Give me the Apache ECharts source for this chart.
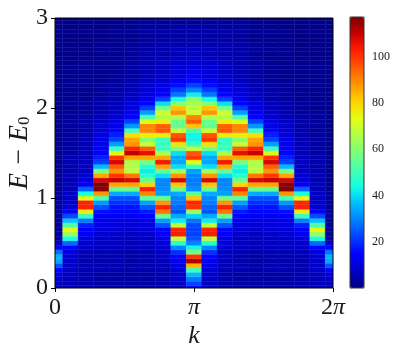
<!DOCTYPE html>
<html>
<head>
<meta charset="utf-8">
<style>
    html, body { margin: 0; padding: 0; background: #fff; }
    #chart { width: 399px; height: 356px; }
</style>
<script src="https://cdn.jsdelivr.net/npm/echarts@6/dist/echarts.min.js"></script>
</head>
<body>
<div id="chart"></div>
<script type="text/javascript">
    // intensity per k column, from E = 0 upwards in steps of 0.05 (61 rows)
    const k0 = [6,6,8,10,15,24,34,35,28,15, 7,4,3,3,3,3,3,3,3,3, 3,3,2,2,2,2,2,2,2,2,
                2,2,2,2,2,2,2,2,2,2, 1,1,1,1,1,1,1,1,1,1, 1,1,1,1,1,1,1,1,1,1, 1];
    const k1 = [6,6,6,7,7,8,8,9,11,15, 26,44,62,74,52,37,23,14,9,8, 7,7,6,6,6,5,5,5,5,5,
                4,4,4,3,3,3,3,3,3,3, 2,2,2,2,2,2,2,2,2,2, 1,1,1,1,1,1,1,1,1,1, 1];
    const k2 = [5,5,5,5,5,5,5,5,6,7, 8,10,13,14,18,29,48,76,102,102, 73,44,26,14,10,8,7,7,7,6,
                6,6,6,5,5,5,4,4,4,3, 3,3,2,2,2,2,2,2,2,2, 2,2,1,1,1,1,1,1,1,1, 1];
    const k3 = [4,4,4,4,5,5,5,5,6,6, 7,8,9,10,11,12,14,16,24,32, 52,88,116,117,108,86,59,36,22,18,
                15,14,12,11,10,9,8,7,6,5, 5,4,4,3,3,3,2,2,2,2, 2,2,2,2,2,2,1,1,1,1, 1];
    const k4 = [4,4,4,4,5,5,5,5,6,6, 7,7,8,9,10,11,13,15,17,20, 24,34,55,86,110,100,88,95,108,100,
                74,49,33,22,18,15,12,10,9,8, 7,6,5,5,4,4,3,3,3,2, 2,2,2,2,2,2,2,2,2,1, 1];
    const k5 = [4,4,4,4,4,4,4,4,5,6, 6,7,7,8,9,11,13,15,17,20, 24,34,56,86,108,92,68,66,66,86,
                110,102,88,86,78,50,32,22,15,13, 11,10,8,7,6,5,5,4,4,4, 4,3,3,3,3,2,2,2,2,2, 2];
    const k6 = [4,4,4,4,5,5,5,5,6,6, 7,7,8,9,10,12,15,17,25,33, 54,90,102,80,56,47,42,46,58,86,
                106,95,68,60,76,90,90,72,52,33, 22,15,13,11,9,8,7,6,6,5, 5,5,5,4,4,4,3,3,3,3, 2];
    const k7 = [5,5,5,5,5,6,6,7,7,8, 10,12,14,15,24,33,56,92,102,88, 56,33,31,30,30,40,54,86,104,86,
                66,49,49,49,76,96,95,76,66,70, 58,40,22,15,13,11,9,8,7,7, 6,6,5,5,5,4,4,4,3,3, 3];
    const k8 = [6,7,7,8,9,11,13,15,20,30, 46,68,103,102,68,42,34,24,26,29, 30,34,56,82,108,88,64,40,34,34,
                40,58,78,100,96,70,55,56,66,88, 82,60,44,28,22,16,13,11,10,9, 8,7,6,6,5,5,4,4,4,3, 3];
    const k9 = [15,22,28,36,50,84,112,100,58,43, 30,24,22,22,23,28,39,62,100,102, 82,54,31,29,29,30,33,48,73,100,
                96,68,49,43,43,50,82,95,90,70, 68,64,62,42,30,22,16,14,12,10, 9,8,7,6,5,5,4,4,4,3, 3];

    // the spectrum is mirror symmetric around k = pi
    const columns = [k0, k1, k2, k3, k4, k5, k6, k7, k8, k9, k8, k7, k6, k5, k4, k3, k2, k1, k0];
    const colorbarTicks = [20, 40, 60, 80, 100];
    const jetColors = ['#00007f', '#0000c8', '#0000ff', '#0040ff', '#0080ff', '#00bfff', '#14ffe2', '#48ffaf',
        '#7cff7a', '#afff48', '#e2ff14', '#ffd200', '#ff9700', '#ff5c00', '#ff2100', '#c80000', '#7f0000'];

    const TWO_PI = 2 * Math.PI;
    const dk = TWO_PI / 18;
    const dE = 0.05;
    const serif = '"Liberation Serif", serif';
    const textColor = '#1a1a1a';

    const cells = [];
    columns.forEach(function (col, j) {
        col.forEach(function (v, i) {
            cells.push([j * dk, i * dE, v]);
        });
    });

    function renderCell(params, api) {
        const c = api.coord([api.value(0), api.value(1)]);
        const s = api.size([dk, dE]);
        const color = api.visual('color');
        return {
            type: 'rect',
            shape: { x: c[0] - s[0] / 2, y: c[1] - s[1] / 2, width: s[0], height: s[1] },
            // thin stroke hides the white seams between cells
            style: { fill: color, stroke: color, lineWidth: 0.4 }
        };
    }

    function piLabel(v) {
        if (v < 0.1) return '0';
        return v < 4 ? '{pi|π}' : '2{pi|π}';
    }

    const myChart = echarts.init(document.getElementById('chart'));
    myChart.setOption({
        animation: false,
        grid: [
            { left: 55, top: 18, width: 278, height: 270, show: true, z: 5, outerBoundsMode: 'none',
              backgroundColor: 'transparent', borderColor: '#000', borderWidth: 1 },
            { left: 350, top: 17, width: 14, height: 271, show: true, z: 5, outerBoundsMode: 'none',
              backgroundColor: 'transparent', borderColor: '#333', borderWidth: 1 }
        ],
        xAxis: [
            {
                type: 'value', gridIndex: 0, min: 0, max: TWO_PI, interval: Math.PI,
                name: 'k', nameLocation: 'middle', nameGap: 35, nameMoveOverlap: false,
                nameTextStyle: { fontFamily: serif, fontStyle: 'italic', fontSize: 26, color: textColor },
                axisLine: { show: false },
                axisTick: { show: true, length: 4, lineStyle: { color: '#000' } },
                axisLabel: {
                    formatter: piLabel, margin: 8, fontFamily: serif, fontSize: 24, color: textColor,
                    hideOverlap: false,
                    rich: { pi: { fontFamily: serif, fontStyle: 'italic', fontSize: 24, color: textColor } }
                },
                splitLine: { show: false }
            },
            { type: 'value', gridIndex: 1, min: 0, max: 1, show: false }
        ],
        yAxis: [
            {
                type: 'value', gridIndex: 0, min: 0, max: 3, interval: 1,
                name: '{e|E − E}{sub|0}', nameLocation: 'middle', nameGap: 22, nameMoveOverlap: false,
                nameTextStyle: {
                    rich: {
                        e: { fontFamily: serif, fontStyle: 'italic', fontSize: 27, color: textColor },
                        sub: { fontFamily: serif, fontSize: 17, color: textColor, verticalAlign: 'bottom', padding: [8, 0, 0, 0] }
                    }
                },
                axisLine: { show: false },
                axisTick: { show: true, length: 4, lineStyle: { color: '#000' } },
                axisLabel: { margin: 7, fontFamily: serif, fontSize: 24, color: textColor },
                splitLine: { show: false }
            },
            {
                type: 'value', gridIndex: 1, position: 'right', min: 0, max: 117,
                axisLine: { show: false },
                axisTick: { show: true, length: 3, lineStyle: { color: '#000' }, customValues: colorbarTicks },
                axisLabel: { margin: 8, fontFamily: serif, fontSize: 12, color: textColor, customValues: colorbarTicks },
                splitLine: { show: false }
            }
        ],
        visualMap: {
            type: 'continuous', seriesIndex: 0, dimension: 2, min: 0, max: 117,
            left: 350, top: 17, itemWidth: 14, itemHeight: 271, padding: 0,
            calculable: false, realtime: false, text: null, hoverLink: false,
            inRange: { color: jetColors }
        },
        series: [
            {
                name: 'Intensity',
                type: 'custom',
                xAxisIndex: 0,
                yAxisIndex: 0,
                data: cells,
                encode: { x: 0, y: 1 },
                renderItem: renderCell,
                clip: true,
                silent: true
            }
        ]
    });
</script>
</body>
</html>
